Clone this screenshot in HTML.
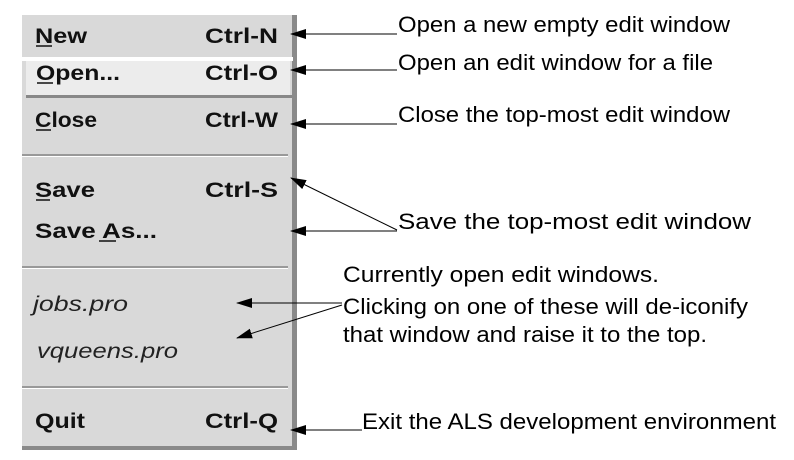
<!DOCTYPE html>
<html><head><meta charset="utf-8"><style>
html,body{margin:0;padding:0;background:#fff;}
</style></head><body>
<svg width="794" height="460" xmlns="http://www.w3.org/2000/svg" style="display:block">
<defs><marker id="a" markerWidth="16" markerHeight="10" refX="15" refY="5" orient="auto" markerUnits="userSpaceOnUse"><path d="M0,0 L16,5 L0,10 z" fill="#000"/></marker></defs>
<rect x="22" y="15" width="271" height="433" fill="#d9d9d9"/>
<rect x="292" y="15" width="5" height="435" fill="#8a8a8a"/>
<rect x="22" y="446" width="275" height="4" fill="#8a8a8a"/>
<rect x="22" y="57" width="271" height="4" fill="#fff"/>
<rect x="26" y="61" width="264" height="35" fill="#ececec"/>
<rect x="26" y="95" width="266" height="3" fill="#888"/>
<rect x="22" y="154" width="266" height="2" fill="#999"/><rect x="22" y="156" width="266" height="1" fill="#fff"/>
<rect x="22" y="266" width="266" height="2" fill="#999"/><rect x="22" y="268" width="266" height="1" fill="#fff"/>
<rect x="22" y="386" width="266" height="2" fill="#999"/><rect x="22" y="388" width="266" height="1" fill="#fff"/>
<g font-family="Liberation Sans, sans-serif" font-weight="bold" font-size="21" fill="#111" lengthAdjust="spacingAndGlyphs">
<text x="35" y="43" textLength="52" lengthAdjust="spacingAndGlyphs">New</text><text x="205" y="43" textLength="73" lengthAdjust="spacingAndGlyphs">Ctrl-N</text>
<text x="36" y="80" textLength="84" lengthAdjust="spacingAndGlyphs">Open...</text><text x="205" y="80" textLength="73" lengthAdjust="spacingAndGlyphs">Ctrl-O</text>
<text x="35" y="127" textLength="62" lengthAdjust="spacingAndGlyphs">Close</text><text x="205" y="127" textLength="73" lengthAdjust="spacingAndGlyphs">Ctrl-W</text>
<text x="35" y="197" textLength="60" lengthAdjust="spacingAndGlyphs">Save</text><text x="205" y="197" textLength="73" lengthAdjust="spacingAndGlyphs">Ctrl-S</text>
<text x="35" y="238" textLength="122" lengthAdjust="spacingAndGlyphs">Save As...</text>
<text x="35" y="428" textLength="50" lengthAdjust="spacingAndGlyphs">Quit</text><text x="205" y="428" textLength="73" lengthAdjust="spacingAndGlyphs">Ctrl-Q</text>
</g>
<g stroke="#111" stroke-width="1.5">
<line x1="36" y1="46" x2="52" y2="46"/><line x1="37" y1="83" x2="53" y2="83"/><line x1="36" y1="130" x2="51" y2="130"/><line x1="36" y1="200" x2="50" y2="200"/><line x1="99" y1="241" x2="116" y2="241"/>
</g>
<g font-family="Liberation Sans, sans-serif" font-style="italic" font-size="21" fill="#222">
<text x="33" y="311" textLength="95" lengthAdjust="spacingAndGlyphs">jobs.pro</text><text x="37" y="358" textLength="141" lengthAdjust="spacingAndGlyphs">vqueens.pro</text>
</g>
<g stroke="#000" stroke-width="1" fill="none" marker-end="url(#a)">
<line x1="397" y1="34" x2="291" y2="34"/>
<line x1="397" y1="70" x2="291" y2="70"/>
<line x1="397" y1="124" x2="291" y2="124"/>
<line x1="397" y1="230" x2="291" y2="178"/>
<line x1="397" y1="231" x2="291" y2="231"/>
<line x1="342" y1="303" x2="237" y2="303"/>
<line x1="342" y1="305" x2="237" y2="338"/>
<line x1="362" y1="430" x2="291" y2="430"/>
</g>
<g font-family="Liberation Sans, sans-serif" font-size="22" fill="#000">
<text x="398" y="32" textLength="332" lengthAdjust="spacingAndGlyphs">Open a new empty edit window</text>
<text x="398" y="70" textLength="315" lengthAdjust="spacingAndGlyphs">Open an edit window for a file</text>
<text x="398" y="122" textLength="332" lengthAdjust="spacingAndGlyphs">Close the top-most edit window</text>
<text x="398" y="229" textLength="353" lengthAdjust="spacingAndGlyphs">Save the top-most edit window</text>
<text x="343" y="282" textLength="316" lengthAdjust="spacingAndGlyphs">Currently open edit windows.</text>
<text x="343" y="314" textLength="405" lengthAdjust="spacingAndGlyphs">Clicking on one of these will de-iconify</text>
<text x="343" y="342" textLength="364" lengthAdjust="spacingAndGlyphs">that window and raise it to the top.</text>
<text x="362" y="429" textLength="414" lengthAdjust="spacingAndGlyphs">Exit the ALS development environment</text>
</g>
</svg>
</body></html>
